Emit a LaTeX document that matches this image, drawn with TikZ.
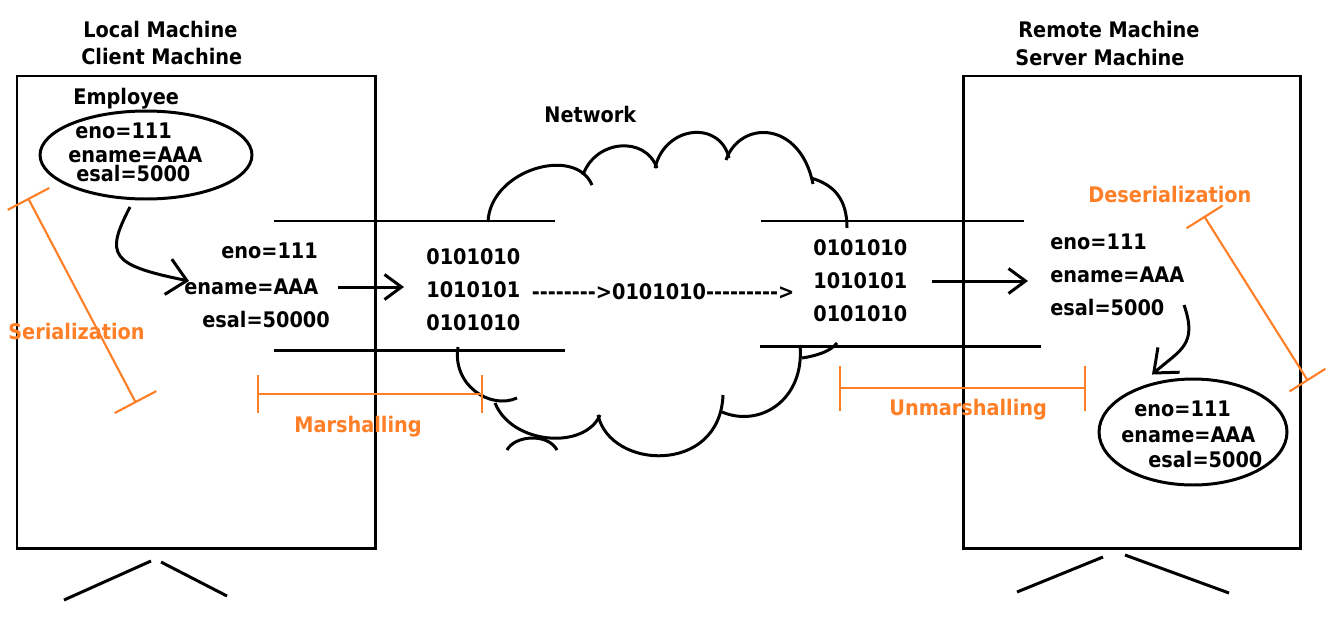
\documentclass[tikz,border=0pt]{standalone}
\usepackage{fontspec}
\newfontfamily\dvs{DejaVu Sans Condensed}
\usetikzlibrary{arrows.meta,shapes.geometric}
\definecolor{pnorange}{RGB}{255,127,39}
\tikzset{
    txt/.style={inner sep=0pt,font=\dvs\bfseries\fontsize{12.2}{14}\selectfont,text height=8.9pt,text depth=0pt},
    otxt/.style={txt,text=pnorange},
    wire/.style={line width=1.7pt},
    arr/.style={wire,-{Straight Barb[length=0.34cm,width=0.5cm]}},
    obj/.style={draw,ellipse,wire,inner sep=0pt},
    span/.style={draw=pnorange,line width=1.2pt,{Bar[width=#1]}-{Bar[width=#1]}}
}

\begin{document}
\begin{tikzpicture}[x=0.02cm,y=-0.02cm]

    \fill[white] (0,0) rectangle (1327,629);
    \useasboundingbox (0,0) rectangle (1327,629);

    % machines
    \draw[wire] (17,76) rectangle (375,548);
    \draw[wire] (64,600) -- (151,561);
    \draw[wire] (161,562) -- (227,596);
    \draw[wire] (963,76) rectangle (1300,548);
    \draw[wire] (1017,592) -- (1103,557);
    \draw[wire] (1125,555) -- (1229,593);

    \node[txt,anchor=west] (local) at (83,30) {Local Machine};
    \node[txt,anchor=west] (client) at (81,57) {Client Machine};
    \node[txt,anchor=west] (remote) at (1018,30) {Remote Machine};
    \node[txt,anchor=west] (server) at (1015,58) {Server Machine};
    \node[txt,anchor=west] (network) at (544,115) {Network};

    % pipes
    \draw[wire] (274,221) -- (555,221);
    \draw[wire] (274,350) -- (565,350);
    \draw[wire] (761,221) -- (1024,221);
    \draw[wire] (760,346) -- (1041,346);

    % cloud
    \draw[wire] (488,222) .. controls (490,170) and (575,145) .. (592,185);
    \draw[wire] (583,175) .. controls (595,140) and (645,135) .. (657,168);
    \draw[wire] (655,168) .. controls (665,125) and (720,120) .. (729,158);
    \draw[wire] (726,160) .. controls (740,120) and (800,120) .. (813,184);
    \draw[wire] (811,178) .. controls (835,185) and (847,200) .. (847,228);
    \draw[wire] (458,347) .. controls (452,385) and (490,410) .. (517,398);
    \draw[wire] (495,403) .. controls (512,445) and (585,450) .. (600,415);
    \draw[wire] (507,450) .. controls (515,435) and (548,433) .. (557,450);
    \draw[wire] (598,415) .. controls (610,470) and (720,475) .. (723,395);
    \draw[wire] (722,412) .. controls (760,428) and (805,400) .. (800,345);
    \draw[wire] (802,358) .. controls (815,356) and (830,352) .. (837,343);

    % client side
    \node[txt,anchor=west] (emp) at (73,97) {Employee};
    \node[obj,minimum width=4.24cm,minimum height=1.76cm] (lobj) at (146,155) {};
    \node[txt,anchor=west] (le1) at (75,131) {eno=111};
    \node[txt,anchor=west] (le2) at (68,155) {ename=AAA};
    \node[txt,anchor=west] (le3) at (76,174) {esal=5000};

    \node[txt,anchor=west] (lb1) at (221,251) {eno=111};
    \node[txt,anchor=west] (lb2) at (184,287) {ename=AAA};
    \node[txt,anchor=west] (lb3) at (202,320) {esal=50000};

    \node[txt,anchor=west] (lbin1) at (426,257) {0101010};
    \node[txt,anchor=west] (lbin2) at (426,290) {1010101};
    \node[txt,anchor=west] (lbin3) at (426,323) {0101010};

    \node[txt] (flow) at (663,292) {-------->0101010--------->};

    % server side
    \node[txt,anchor=west] (rbin1) at (813,248) {0101010};
    \node[txt,anchor=west] (rbin2) at (813,281) {1010101};
    \node[txt,anchor=west] (rbin3) at (813,314) {0101010};

    \node[txt,anchor=west] (rb1) at (1050,242) {eno=111};
    \node[txt,anchor=west] (rb2) at (1050,275) {ename=AAA};
    \node[txt,anchor=west] (rb3) at (1050,308) {esal=5000};

    \node[obj,minimum width=3.76cm,minimum height=2.12cm] (robj) at (1193,432) {};
    \node[txt,anchor=west] (re1) at (1134,409) {eno=111};
    \node[txt,anchor=west] (re2) at (1121,435) {ename=AAA};
    \node[txt,anchor=west] (re3) at (1148,460) {esal=5000};

    % arrows
    \coordinate (lcs) at (130,207);
    \draw[arr,-{Straight Barb[length=0.38cm,width=0.72cm]}] (lcs) .. controls (105,255) and (110,265) .. ([shift={(5,-6)}]lb2.west);
    \draw[arr] ([xshift=0.38cm]lb2.east) coordinate (la) -- ([xshift=-0.44cm]lbin2.west |- la);
    \draw[arr] ([xshift=0.48cm]rbin2.east) coordinate (ra) -- ([xshift=-0.44cm]rb2.west |- ra);
    \coordinate (rcs) at (1184,305);
    \draw[arr,-{Straight Barb[length=0.4cm,width=0.66cm]}] (rcs) .. controls (1198,345) and (1180,350) .. ([shift={(-41,-3)}]robj.north);

    % labels
    \draw[span=0.94cm] (28,198) -- (136,403);
    \node[otxt,anchor=west] (ser) at (8,332) {Serialization};
    \draw[span=0.76cm] (257,394) -- (483,394);
    \node[otxt,anchor=west] (mar) at (294,425) {Marshalling};
    \draw[span=0.9cm] (839,388) -- (1086,388);
    \node[otxt,anchor=west] (unmar) at (889,408) {Unmarshalling};
    \draw[span=0.85cm] (1204,216) -- (1308,381);
    \node[otxt,anchor=west] (deser) at (1088,195) {Deserialization};
\end{tikzpicture}
\end{document}
